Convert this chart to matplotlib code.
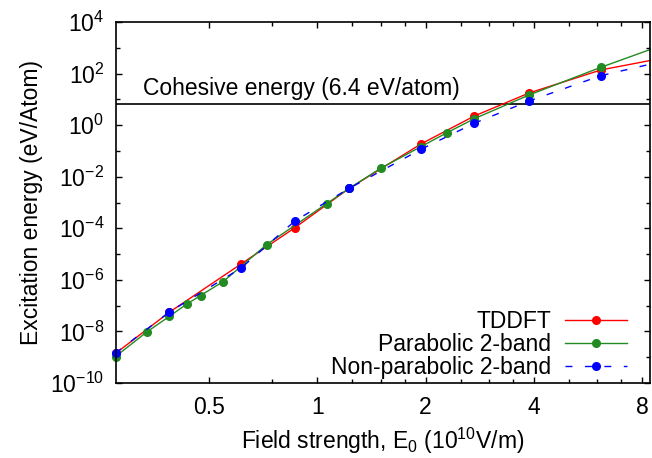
import numpy as np
import matplotlib
matplotlib.use('Agg')
import matplotlib.pyplot as plt

plt.rcParams['font.family'] = 'Liberation Sans'
plt.rcParams['mathtext.fontset'] = 'custom'
plt.rcParams['mathtext.rm'] = 'Liberation Sans'
plt.rcParams['mathtext.it'] = 'Liberation Sans:italic'
plt.rcParams['font.size'] = 16.5

# field strength (1e10 V/m) and excitation energy (eV/atom)
# last point of each line sits at the right edge and carries no marker
E_tddft = [0.275, 0.3876, 0.6136, 0.867, 1.225, 1.942, 2.732, 3.877, 6.135, 8.4]
W_tddft = [1.4e-9, 5.5e-8, 4.1e-6, 1.06e-4, 3.5e-3, 0.187, 2.27, 17.7, 138, 320]

E_para = [0.275, 0.3355, 0.3876, 0.4336, 0.4739, 0.5477, 0.7234, 1.062, 1.225,
          1.5, 1.942, 2.294, 2.732, 3.877, 6.135, 8.4]
W_para = [1.06e-9, 9.4e-9, 3.8e-8, 1.14e-7, 2.46e-7, 8.6e-7, 2.33e-5, 9.06e-4,
          3.5e-3, 0.0213, 0.147, 0.512, 1.79, 14.8, 175, 850]

E_nonpara = [0.275, 0.3876, 0.6136, 0.867, 1.225, 1.942, 2.732, 3.877, 6.135, 8.4]
W_nonpara = [1.44e-9, 5.6e-8, 2.84e-6, 1.94e-4, 3.52e-3, 0.116, 1.19, 8.67, 83, 230]

cohesive = 6.4

xticks = [0.5, 1, 2, 4, 8]
xtick_labels = ['0.5', '1', '2', '4', '8']
xminor = [0.75, 1.25, 1.5, 1.75, 2.5, 3, 3.5, 5, 6, 7]
yticks = [1e-10, 1e-8, 1e-6, 1e-4, 1e-2, 1e0, 1e2, 1e4]
yminor = [1e-9, 1e-7, 1e-5, 1e-3, 1e-1, 1e1, 1e3]

fig = plt.figure(figsize=(6.52, 4.58), dpi=100)
ax = fig.add_axes([115.5/652, 1-383/458, (650-115.5)/652, (383-22)/458])

ax.axhline(cohesive, color='black', lw=1.2)
ax.text(0.328, 27, 'Cohesive energy (6.4 eV/atom)', va='center', ha='left')

ax.plot(E_tddft, W_tddft, color='#ff0000', lw=1.0, marker='o', ms=5.5,
        markevery=list(range(len(E_tddft)-1)), label='TDDFT', clip_on=False)
ax.plot(E_para, W_para, color='#228b22', lw=1.0, marker='o', ms=5.5,
        markevery=list(range(len(E_para)-1)), label='Parabolic 2-band', clip_on=False)
ax.plot(E_nonpara, W_nonpara, color='#0000ff', lw=1.0, ls=(0, (5, 9)), marker='o', ms=5.5,
        markevery=list(range(len(E_nonpara)-1)), label='Non-parabolic 2-band', clip_on=False)

ax.set_xscale('log')
ax.set_yscale('log')
ax.set_xlim(0.275, 8.4)
ax.set_ylim(1e-10, 1e4)

ax.set_xticks(xticks)
ax.set_xticklabels(xtick_labels)
ax.set_xticks(xminor, minor=True)
ax.set_xticklabels([], minor=True)
ax.set_yticks(yticks)
ax.set_yticks(yminor, minor=True)
ax.set_yticklabels([], minor=True)

ax.tick_params(which='both', direction='in', top=True, right=True, width=1)
ax.tick_params(which='major', length=4.5)
ax.tick_params(which='minor', length=3)
ax.tick_params(axis='x', which='major', pad=9)
ax.tick_params(axis='y', which='major', pad=8)
for s in ax.spines.values():
    s.set_linewidth(1.2)

ax.set_xlabel('Field strength, E$_0$ (10$^{10}$V/m)', labelpad=5)
ax.set_ylabel('Excitation energy (eV/Atom)', labelpad=5)

ax.legend(loc='lower right', markerfirst=False, frameon=False, numpoints=1,
          handlelength=2.7, handletextpad=0.6, labelspacing=0.0,
          borderpad=0, borderaxespad=0,
          bbox_to_anchor=((627-115.5)/(650-115.5), 0.012))

fig.savefig('out.png', dpi=100)
